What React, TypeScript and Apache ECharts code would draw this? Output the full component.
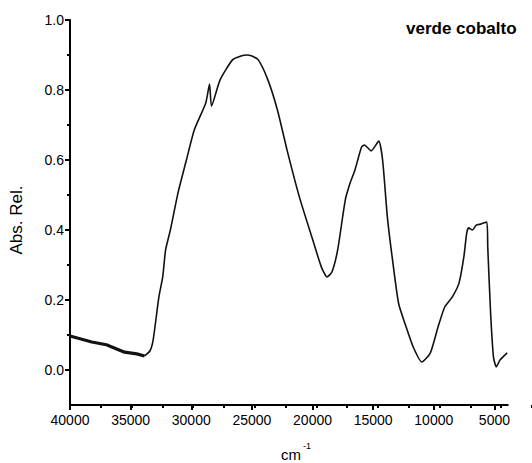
import React, { useEffect, useRef } from "react";
import * as echarts from "echarts";

const title = "verde cobalto";
const xTitle = "cm";
const xTitleSup = "-1";
const yTitle = "Abs. Rel.";

const xMajorTicks = [40000, 35000, 30000, 25000, 20000, 15000, 10000, 5000];
const xMinorStep = 2500;
const yMajorTicks = [0, 0.2, 0.4, 0.6, 0.8, 1.0];
const yMinorStep = 0.1;

// noisy low-energy part of the spectrum
const wavenumbersA = [40000, 38200, 37000, 35500, 34500, 33850];
const absorbanceA = [0.097, 0.08, 0.072, 0.051, 0.046, 0.04];

// rest of the spectrum
const wavenumbersB = [
  33850, 33400, 33142, 32669, 32354, 32117, 31723, 31092, 30400, 29752, 28806, 28491, 28334,
  27624, 26599, 25900, 25416, 25000, 24471, 23682, 22894, 22105, 21081, 20056, 19267, 18795,
  18400, 17928, 17297, 16903, 16508, 15957, 15720, 15169, 14538, 14222, 13828, 13434, 12900,
  12300, 11700, 10990, 10281, 9650, 9098, 8468, 7916, 7522, 7285, 7127, 6812, 6497, 6103,
  5630, 5550, 5315, 5078, 4842, 4527, 3950,
];
const absorbanceB = [
  0.04, 0.055, 0.086, 0.209, 0.266, 0.343, 0.4, 0.506, 0.6, 0.686, 0.763, 0.817, 0.754,
  0.829, 0.886, 0.897, 0.9, 0.897, 0.886, 0.829, 0.743, 0.629, 0.494, 0.38, 0.294, 0.266,
  0.28, 0.343, 0.486, 0.534, 0.571, 0.637, 0.643, 0.626, 0.654, 0.6, 0.437, 0.323, 0.19,
  0.125, 0.066, 0.023, 0.049, 0.123, 0.18, 0.209, 0.249, 0.323, 0.391, 0.406, 0.4, 0.414, 0.417,
  0.423, 0.351, 0.163, 0.037, 0.009, 0.029, 0.049,
];

const FONT = "'Liberation Sans', Arial, sans-serif";

const X_MIN = 3900;
const X_MAX = 40000;
const Y_MIN = -0.1;
const Y_MAX = 1.0;

export default function App() {
  const ref = useRef<HTMLDivElement>(null);
  useEffect(() => {
    if (!ref.current) return;
    const chart = echarts.init(ref.current, null, { renderer: "svg" });
    const W = 532;
    const H = 463;
    const left = 70;
    const right = 4;
    const top = 20;
    const bottom = 58;
    const plotW = W - left - right;
    const plotH = H - top - bottom;
    // tick-only grids share the main scale but start at round values
    const xMinorMin = 2500;
    const pxPerX = plotW / (X_MAX - X_MIN);
    const minorRight = W - left - (X_MAX - xMinorMin) * pxPerX;
    const pxPerY = plotH / (Y_MAX - Y_MIN);
    const minorBottom = bottom + (0 - Y_MIN) * pxPerY;

    const line = { show: true, onZero: false, lineStyle: { color: "#000", width: 2 } };
    const minorTick = { show: true, length: 3, lineStyle: { color: "#000", width: 2 } };
    const spectrumB = wavenumbersB.map((x, i) => [x, absorbanceB[i]]);
    const hiddenSeries = (idx: number) => ({
      type: "line",
      xAxisIndex: idx,
      yAxisIndex: idx,
      showSymbol: false,
      silent: true,
      clip: true,
      data: spectrumB,
      lineStyle: { opacity: 0, width: 0 },
      tooltip: { show: false },
    });

    chart.setOption({
      animation: false,
      backgroundColor: "#fff",
      grid: [
        { left, right, top, bottom, containLabel: false },
        { left, right: minorRight, top, bottom, containLabel: false },
        { left, right, top, bottom: minorBottom, containLabel: false },
      ],
      xAxis: [
        {
          type: "value",
          gridIndex: 0,
          inverse: true,
          min: X_MIN,
          max: X_MAX,
          position: "bottom",
          splitLine: { show: false },
          axisLine: line,
          axisTick: { show: true, customValues: xMajorTicks, length: 5, lineStyle: { color: "#000", width: 2 } },
          axisLabel: {
            show: true,
            customValues: xMajorTicks,
            color: "#000",
            fontSize: 14,
            fontFamily: FONT,
            margin: 8,
            formatter: (v: number) => String(v),
          },
        },
        {
          type: "value",
          gridIndex: 1,
          inverse: true,
          min: xMinorMin,
          max: X_MAX,
          interval: xMinorStep,
          position: "bottom",
          splitLine: { show: false },
          axisLine: { show: false, onZero: false },
          axisTick: minorTick,
          axisLabel: { show: false },
        },
        {
          type: "value",
          gridIndex: 2,
          show: false,
          inverse: true,
          min: X_MIN,
          max: X_MAX,
        },
      ],
      yAxis: [
        {
          type: "value",
          gridIndex: 0,
          min: Y_MIN,
          max: Y_MAX,
          position: "left",
          splitLine: { show: false },
          axisLine: line,
          axisTick: { show: true, customValues: yMajorTicks, length: 5, lineStyle: { color: "#000", width: 2 } },
          axisLabel: {
            show: true,
            customValues: yMajorTicks,
            color: "#000",
            fontSize: 14,
            fontFamily: FONT,
            margin: 6,
            formatter: (v: number) => v.toFixed(1),
          },
        },
        {
          type: "value",
          gridIndex: 1,
          show: false,
          min: Y_MIN,
          max: Y_MAX,
        },
        {
          type: "value",
          gridIndex: 2,
          min: 0,
          max: Y_MAX,
          interval: yMinorStep,
          position: "left",
          splitLine: { show: false },
          axisLine: { show: false, onZero: false },
          axisTick: minorTick,
          axisLabel: { show: false },
        },
      ],
      graphic: [
        {
          type: "text",
          left: 406,
          top: 20,
          style: { text: title, font: `bold 17px ${FONT}`, fill: "#000" },
        },
        {
          type: "text",
          x: 16,
          y: 220,
          rotation: Math.PI / 2,
          style: {
            text: yTitle,
            font: `17px ${FONT}`,
            fill: "#000",
            align: "center",
            verticalAlign: "middle",
          },
        },
        {
          type: "text",
          x: 281,
          y: 447,
          style: { text: xTitle, font: `15px ${FONT}`, fill: "#000" },
        },
        {
          type: "text",
          x: 303,
          y: 441,
          style: { text: xTitleSup, font: `9px ${FONT}`, fill: "#000" },
        },
      ],
      series: [
        {
          type: "line",
          xAxisIndex: 0,
          yAxisIndex: 0,
          showSymbol: false,
          data: wavenumbersA.map((x, i) => [x, absorbanceA[i]]),
          lineStyle: { color: "#111", width: 3.2 },
        },
        {
          type: "line",
          xAxisIndex: 0,
          yAxisIndex: 0,
          showSymbol: false,
          smooth: 0.2,
          data: spectrumB,
          lineStyle: { color: "#111", width: 1.6 },
        },
        hiddenSeries(1),
        hiddenSeries(2),
      ],
    });
    return () => chart.dispose();
  }, []);
  return <div ref={ref} style={{ width: 532, height: 463, position: "absolute", left: 0, top: 0 }} />;
}
